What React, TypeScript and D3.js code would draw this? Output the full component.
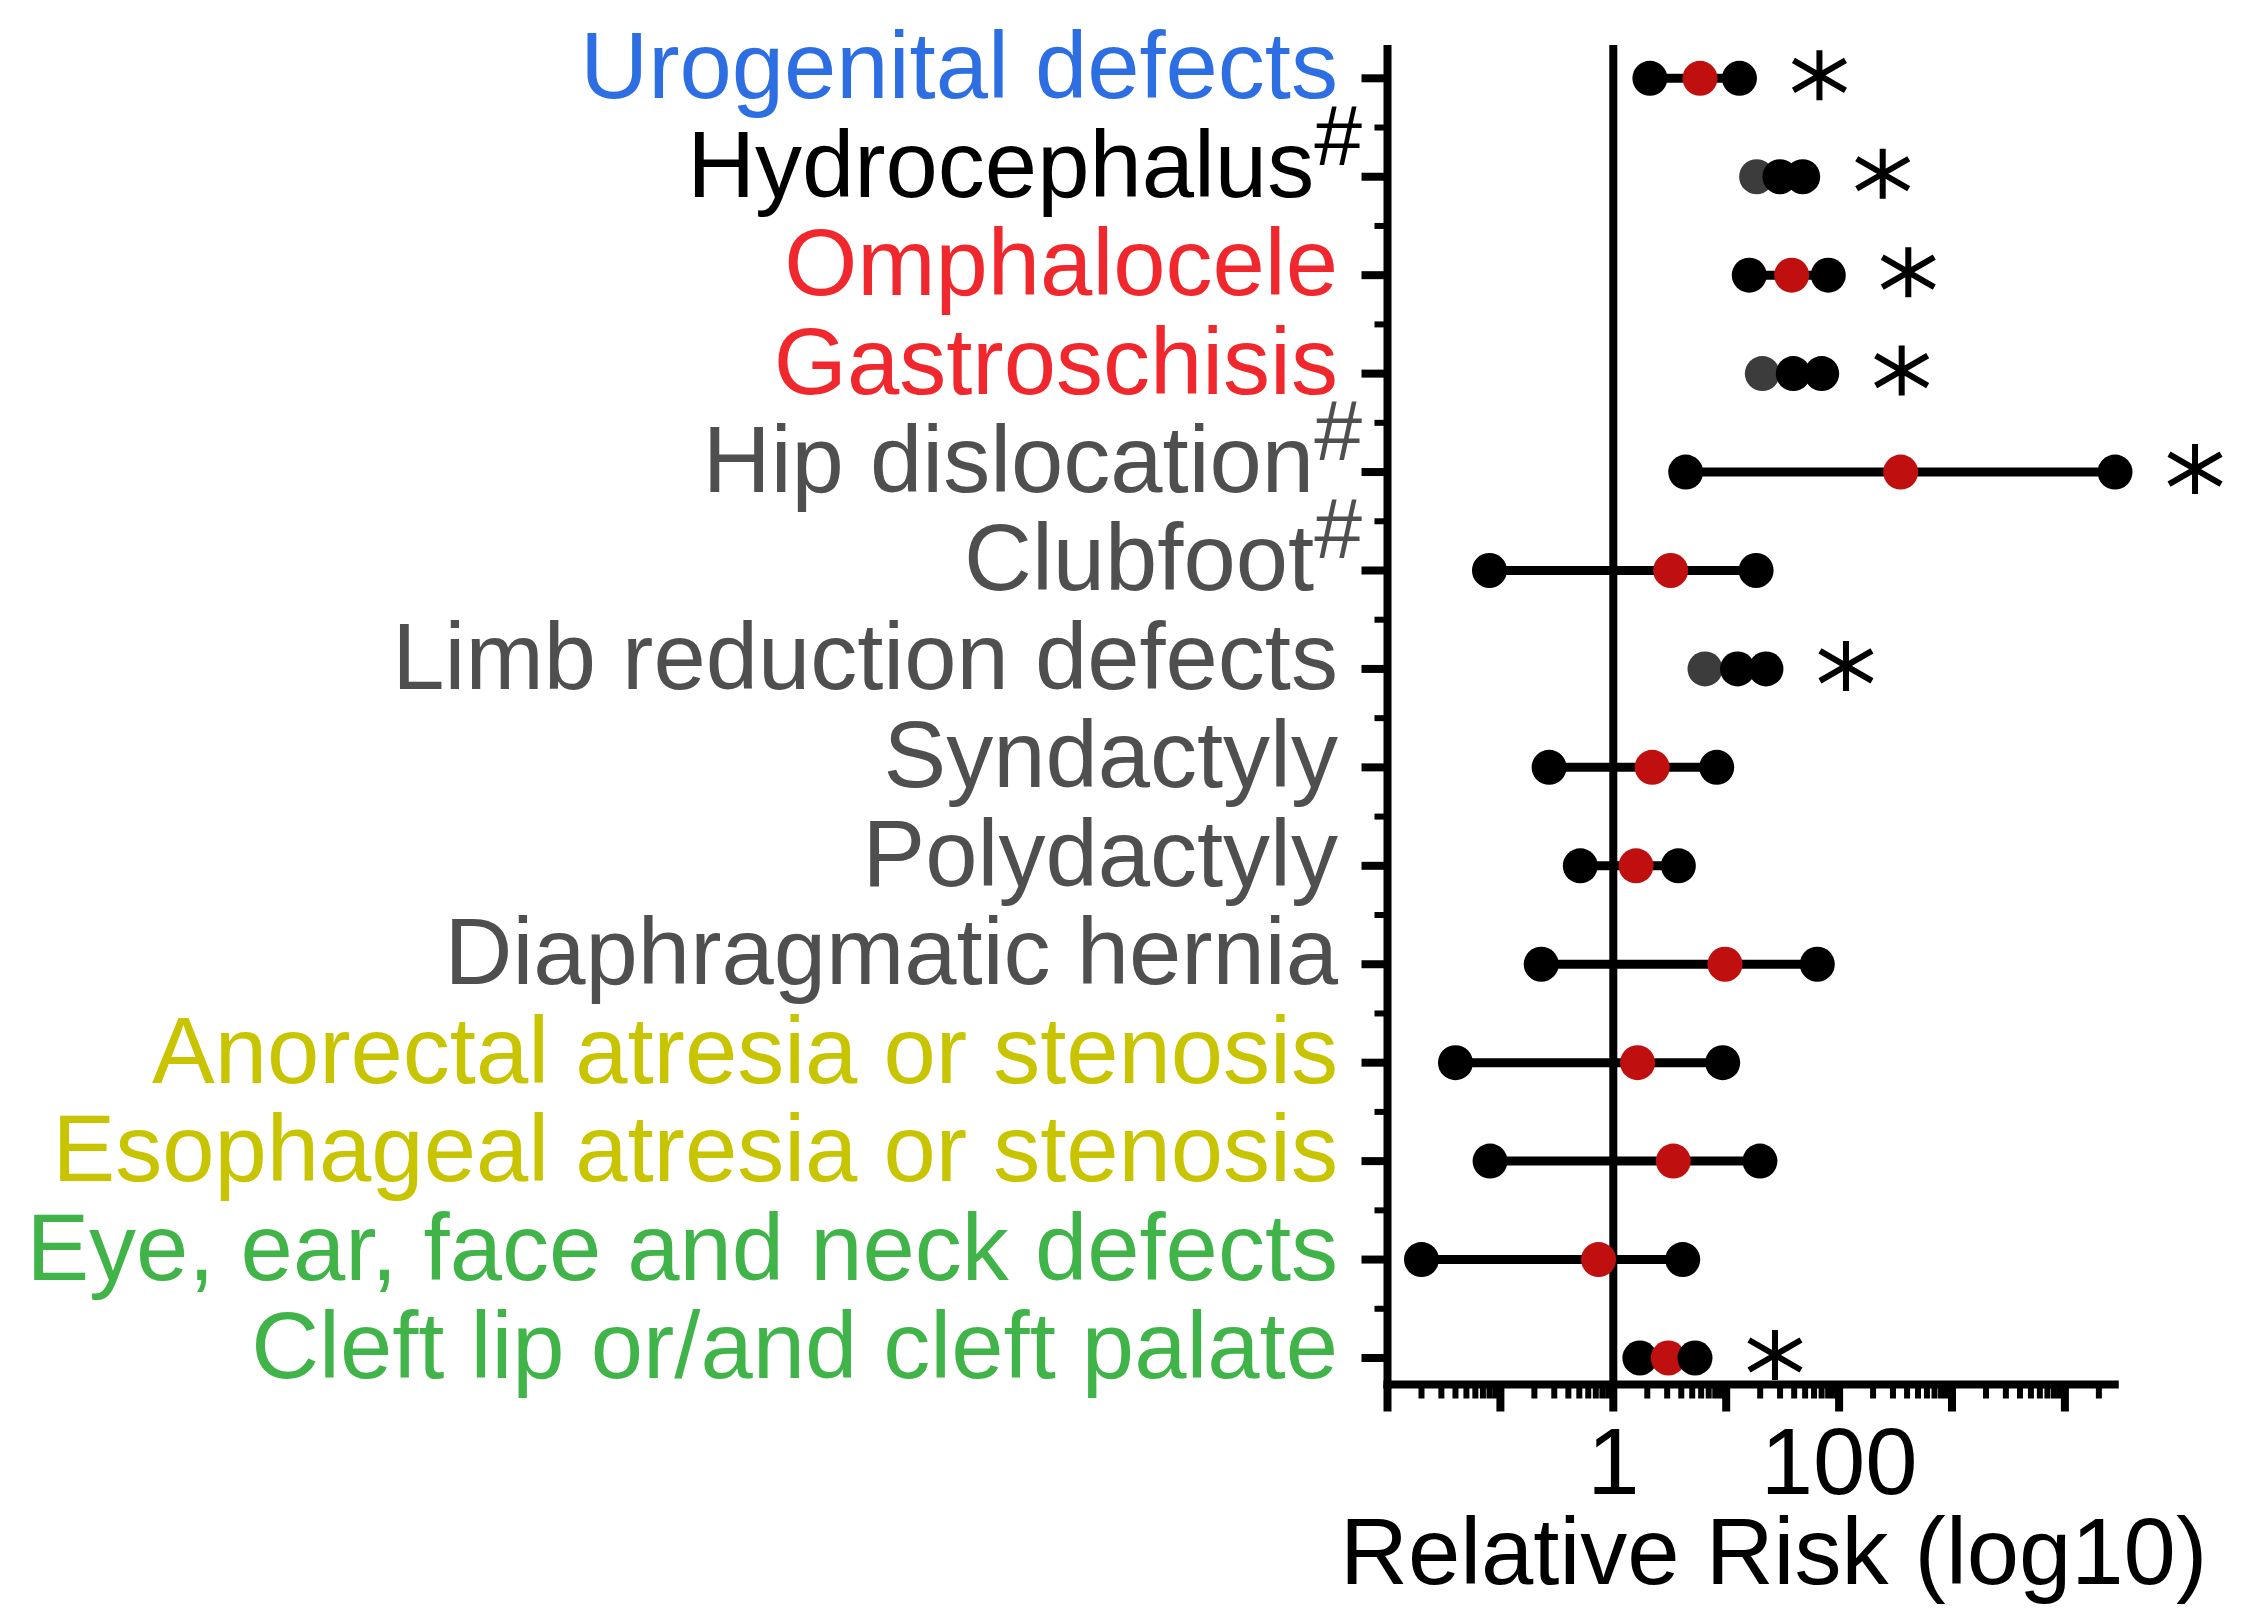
import React from "react";
import * as d3 from "d3";

// ---------- data ----------
const categories = [
  "Urogenital defects",
  "Hydrocephalus",
  "Omphalocele",
  "Gastroschisis",
  "Hip dislocation",
  "Clubfoot",
  "Limb reduction defects",
  "Syndactyly",
  "Polydactyly",
  "Diaphragmatic hernia",
  "Anorectal atresia or stenosis",
  "Esophageal atresia or stenosis",
  "Eye, ear, face and neck defects",
  "Cleft lip or/and cleft palate",
];
const groups = [
  "urogenital",
  "nervous",
  "abdominal",
  "abdominal",
  "musculoskeletal",
  "musculoskeletal",
  "musculoskeletal",
  "musculoskeletal",
  "musculoskeletal",
  "musculoskeletal",
  "digestive",
  "digestive",
  "craniofacial",
  "craniofacial",
];
const lowerCI = [2.11, 18.6, 16.0, 20.9, 4.38, 0.08, 6.49, 0.27, 0.51, 0.23, 0.04, 0.081, 0.02, 1.72];
const relativeRisk = [5.86, 29.9, 38.0, 39.3, 351, 3.22, 12.6, 2.21, 1.59, 9.76, 1.64, 3.4, 0.74, 3.07];
const upperCI = [13.1, 47.6, 80.2, 70.1, 27800, 18.4, 22.5, 8.24, 3.77, 64.1, 9.31, 19.9, 4.12, 5.29];
const significant = [true, true, true, true, true, false, true, false, false, false, false, false, false, true];
const footnoteHash = [false, true, false, false, true, true, false, false, false, false, false, false, false, false];
const grayLowRows = ["Hydrocephalus", "Gastroschisis", "Limb reduction defects"];
const xTickLabels = [1, 100];
const xDomain = [0.01, 30000];
const xTitle = "Relative Risk (log10)";

// ---------- styles ----------
const groupColor: Record<string, string> = {
  urogenital: "#2d6fe3",
  nervous: "#000000",
  abdominal: "#f0282d",
  musculoskeletal: "#4f4f4f",
  digestive: "#c8c400",
  craniofacial: "#40b449",
};
const FONT = "'Liberation Sans', Arial, Helvetica, sans-serif";
const W = 2260;
const H = 1623;

export default function App() {
  const axisX = 1387.5;
  const axisY = 1384.5;
  const topY = 45;
  const decade = 112.9;
  const x = d3
    .scaleLog()
    .domain(xDomain)
    .range([axisX, axisX + decade * Math.log10(xDomain[1] / xDomain[0])]);
  const y = d3
    .scaleLinear()
    .domain([0, categories.length - 1])
    .range([78.3, 1358]);

  const [x0, x1] = x.range();
  const majors = d3.range(-2, 5).map((k) => Math.pow(10, k));
  const minors: number[] = [];
  d3.range(-2, 5).forEach((k) => {
    for (let m = 2; m <= 9; m++) {
      const v = m * Math.pow(10, k);
      if (v < xDomain[1]) minors.push(v);
    }
  });

  const rowIdx = d3.range(categories.length);
  const halfIdx = d3.range(categories.length - 1).map((i) => i + 0.5);

  const labelFs = 94;
  const starPath = "M0,-25V25M-26,-15L26,15M-26,15L26,-15";

  return (
    <svg
      width={W}
      height={H}
      viewBox={`0 0 ${W} ${H}`}
      style={{ position: "absolute", left: 0, top: 0, background: "#fff" }}
      fontFamily={FONT}
    >
      <rect x={0} y={0} width={W} height={H} fill="#fff" />

      {/* reference line at RR = 1 */}
      <line x1={x(1)} x2={x(1)} y1={topY} y2={axisY} stroke="#000" strokeWidth={8} />

      {/* y axis */}
      <line x1={axisX} x2={axisX} y1={topY} y2={axisY + 4} stroke="#000" strokeWidth={8} />
      {rowIdx.map((i) => (
        <line key={"ym" + i} x1={axisX - 26} x2={axisX} y1={y(i)} y2={y(i)} stroke="#000" strokeWidth={8} />
      ))}
      {halfIdx.map((v) => (
        <line key={"yn" + v} x1={axisX - 13} x2={axisX} y1={y(v)} y2={y(v)} stroke="#000" strokeWidth={6} />
      ))}

      {/* x axis */}
      <line x1={x0 - 4} x2={x1} y1={axisY} y2={axisY} stroke="#000" strokeWidth={8} />
      {majors.map((v) => (
        <line key={"xm" + v} x1={x(v)} x2={x(v)} y1={axisY} y2={axisY + 27} stroke="#000" strokeWidth={8} />
      ))}
      {minors.map((v) => (
        <line key={"xn" + v} x1={x(v)} x2={x(v)} y1={axisY} y2={axisY + 14} stroke="#000" strokeWidth={6} />
      ))}
      {xTickLabels.map((v) => (
        <text key={"xl" + v} x={x(v)} y={1494} fontSize={labelFs} textAnchor="middle" fill="#000">
          {v}
        </text>
      ))}
      <text x={1340} y={1584} fontSize={labelFs} fill="#000">
        {xTitle}
      </text>

      {/* category labels */}
      {categories.map((c, i) => {
        const col = groupColor[groups[i]];
        const baseY = y(i) + 20;
        if (footnoteHash[i]) {
          return (
            <text key={"lab" + i} x={1362} y={baseY} fontSize={labelFs} textAnchor="end" fill={col}>
              {c}
              <tspan fontSize={86} dy={-32}>
                #
              </tspan>
            </text>
          );
        }
        return (
          <text key={"lab" + i} x={1338} y={baseY} fontSize={labelFs} textAnchor="end" fill={col}>
            {c}
          </text>
        );
      })}

      {/* interval lines */}
      {categories.map((c, i) => (
        <line
          key={"ci" + i}
          x1={x(lowerCI[i])}
          x2={x(upperCI[i])}
          y1={y(i)}
          y2={y(i)}
          stroke="#000"
          strokeWidth={9}
        />
      ))}

      {/* points */}
      {categories.map((c, i) => {
        const gray = grayLowRows.includes(c);
        return (
          <g key={"pt" + i}>
            <circle cx={x(lowerCI[i])} cy={y(i)} r={17.5} fill={gray ? "#3c3c3c" : "#000"} />
            <circle cx={x(relativeRisk[i])} cy={y(i)} r={17.5} fill={gray ? "#000" : "#c00f0f"} />
            <circle cx={x(upperCI[i])} cy={y(i)} r={17.5} fill="#000" />
          </g>
        );
      })}

      {/* significance marks (asterisks) */}
      {categories.map((c, i) =>
        significant[i] ? (
          <path
            key={"st" + i}
            d={starPath}
            transform={`translate(${x(upperCI[i]) + 80},${y(i) - 3})`}
            stroke="#000"
            strokeWidth={6}
            fill="none"
          >
            <title>*</title>
          </path>
        ) : null
      )}
    </svg>
  );
}
